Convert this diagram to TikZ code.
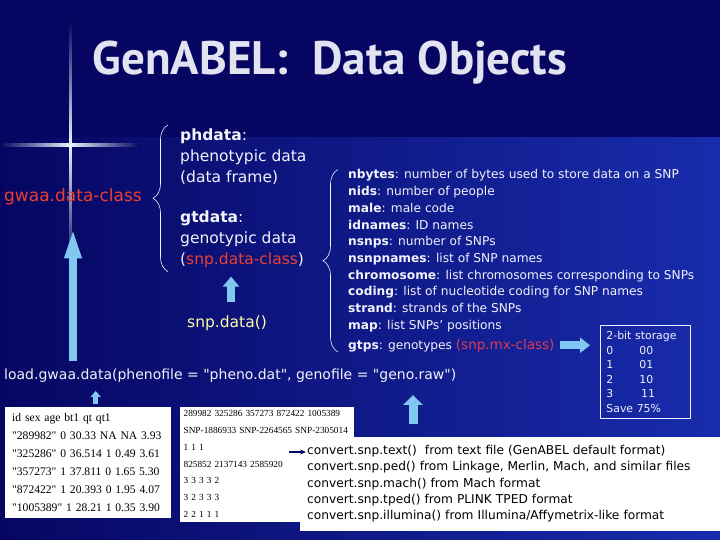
\documentclass[tikz,border=0pt]{standalone}
\usepackage{fontspec}
\setmainfont{DejaVu Sans}
\newfontfamily\codefont{DejaVu Sans}
\newfontfamily\titlefont{PT Sans}
\newfontfamily\tablefont{Liberation Serif}
\usetikzlibrary{arrows.meta, positioning, decorations.pathreplacing}

\definecolor{SlideNavy}{RGB}{6,6,98}
\definecolor{SlideBlue}{RGB}{24,44,172}
\definecolor{SlideRed}{RGB}{236,62,48}
\definecolor{SlidePink}{RGB}{222,58,78}
\definecolor{SlideYellow}{RGB}{255,255,170}
\definecolor{SlideArrow}{RGB}{128,200,242}
\definecolor{SlideText}{RGB}{242,242,250}
\definecolor{SlideTitle}{RGB}{226,226,240}
\newcommand{\setfs}[2]{\fontsize{#1}{#2}\selectfont}

\begin{document}
\begin{tikzpicture}[x=1pt, y=-1pt,
    bodytext/.style={inner sep=0pt, text=SlideText, font=\setfs{15.5}{21}, align=left},
    slot/.style={inner sep=0pt, text=SlideText, font=\setfs{12.2}{16.7}, anchor=base west},
    paperbox/.style={fill=white, draw=white, text=black, align=left, anchor=north west},
    bracket/.style={draw=SlideText, line width=0.6pt, decorate, decoration={brace, amplitude=15pt}},
    blockarrow/.style n args={3}{draw=SlideArrow, line width=#1, -{Triangle[width=#2, length=#3]}}
  ]
  % slide background
  \useasboundingbox (0,0) rectangle (720,540);
  \fill[SlideNavy] (0,0) rectangle (720,540);
  \shade[left color=SlideNavy, right color=SlideBlue] (0,138) rectangle (720,540);
  \shade[top color=SlideNavy, bottom color=SlideNavy, middle color=white!80!SlideArrow] (69,20) rectangle (71.5,270);
  \shade[left color=SlideNavy, right color=SlideNavy, middle color=white!80!SlideArrow] (0,144) rectangle (140,146.5);

  \node[font=\titlefont\bfseries\setfs{47}{52}, text=SlideTitle, inner sep=0pt] (title) at (330,63) {GenABEL:\ \ Data Objects};

  % object structure
  \node[bodytext, font=\setfs{17}{21}, text=SlideRed, anchor=west] (gwaa) at (4,197) {gwaa.data-class};
  \node[bodytext, anchor=north west] (ph) at (180,129) {\textbf{phdata}:\\phenotypic data\\(data frame)};
  \node[bodytext, below=25pt of ph.south west, anchor=north west] (gt) {\textbf{gtdata}:\\genotypic data\\(\textcolor{SlideRed}{snp.data-class})};
  \node[bodytext, text=SlideYellow, anchor=west] (snpfun) at (187,323) {snp.data()};

  \foreach \key/\desc [count=\i from 0] in {nbytes/number of bytes used to store data on a SNP, nids/number of people, male/male code, idnames/ID names, nsnps/number of SNPs, nsnpnames/list of SNP names, chromosome/list chromosomes corresponding to SNPs, coding/list of nucleotide coding for SNP names, strand/strands of the SNPs, map/list SNPs' positions}
    \node[slot] (s\i) at (348,{179+16.7*\i}) {\textbf{\key}: \desc};
  \node[slot] (gtps) at (348,349) {\textbf{gtps}: genotypes \textcolor{SlidePink}{\setfs{13.5}{16.7}(snp.mx-class)}};

  \node[draw=SlideText, line width=0.8pt, text=SlideText, font=\setfs{10.9}{14.5}, align=left, anchor=north west,
        minimum width=90pt, minimum height=93pt, text width=78pt, inner xsep=6pt] (store) at (600,325)
    {2-bit storage\\\makebox[33pt][l]{0}00\\\makebox[33pt][l]{1}01\\\makebox[33pt][l]{2}10\\\makebox[33pt][l]{3}\,11\\Save 75\%};

  \draw[bracket] ([xshift=-12pt,yshift=-4pt]gt.south west) -- ([xshift=-12pt,yshift=4pt]ph.north west);
  \draw[bracket] ([xshift=-10pt]gtps.south west) -- ([xshift=-10pt]s0.north west);

  % loading
  \node[bodytext, font=\codefont\setfs{14}{18}, anchor=west] (load) at (4,376) {load.gwaa.data(phenofile = "pheno.dat", genofile = "geno.raw")};

  \node[paperbox, font=\tablefont\setfs{11.6}{18}, text width=151pt, inner xsep=7pt, minimum height=110pt] (pheno) at (5,407)
    {id sex age bt1 qt qt1\\"289982" 0 30.33 NA NA 3.93\\"325286" 0 36.514 1 0.49 3.61\\"357273" 1 37.811 0 1.65 5.30\\"872422" 1 20.393 0 1.95 4.07\\"1005389" 1 28.21 1 0.35 3.90};
  \node[paperbox, font=\tablefont\setfs{9.3}{16.8}, text width=167pt, inner xsep=3pt, minimum height=110pt,
        right=10pt of pheno.north east, anchor=north west] (geno)
    {289982 325286 357273 872422 1005389\\SNP-1886933 SNP-2264565 SNP-2305014\\1 1 1\\825852 2137143 2585920\\3 3 3 3 2\\3 2 3 3 3\\2 2 1 1 1};
  \node[paperbox, font=\setfs{12.2}{16.3}, text width=406pt, inner xsep=7pt, minimum height=93pt] (conv) at (300,437)
    {convert.snp.text()\ \ from text file (GenABEL default format)\\convert.snp.ped() from Linkage, Merlin, Mach, and similar files\\convert.snp.mach() from Mach format\\convert.snp.tped() from PLINK TPED format\\convert.snp.illumina() from Illumina/Affymetrix-like format};
  \coordinate (genotap) at ([xshift=109pt,yshift=-45pt]geno.north west);

  % arrows
  \draw[blockarrow={8pt}{15pt}{32pt}, shorten <=8pt, shorten >=21pt] (gwaa.south |- load.north) -- (gwaa.south);
  \draw[blockarrow={8pt}{16pt}{10pt}, shorten <=13pt, shorten >=9pt] ([xshift=4pt]snpfun.north) -- ([xshift=4pt]snpfun.north |- gt.south);
  \draw[blockarrow={8pt}{15pt}{10pt}] ([xshift=5pt]gtps.east) -- ([xshift=-10pt]store.west |- gtps.east);
  \draw[blockarrow={5pt}{10pt}{6pt}, shorten <=3pt, shorten >=8pt] ([xshift=8pt]pheno.north) -- ([xshift=8pt]pheno.north |- load.south);
  \draw[blockarrow={9pt}{19pt}{10pt}, shorten <=13pt, shorten >=12pt] ([xshift=113pt]conv.north west) -- ([xshift=113pt]conv.north west |- load.south);
  \draw[-{Stealth[length=6pt, width=5pt]}, SlideNavy, line width=1.3pt] (genotap) -- ([xshift=6pt]conv.west |- genotap);
\end{tikzpicture}
\end{document}
